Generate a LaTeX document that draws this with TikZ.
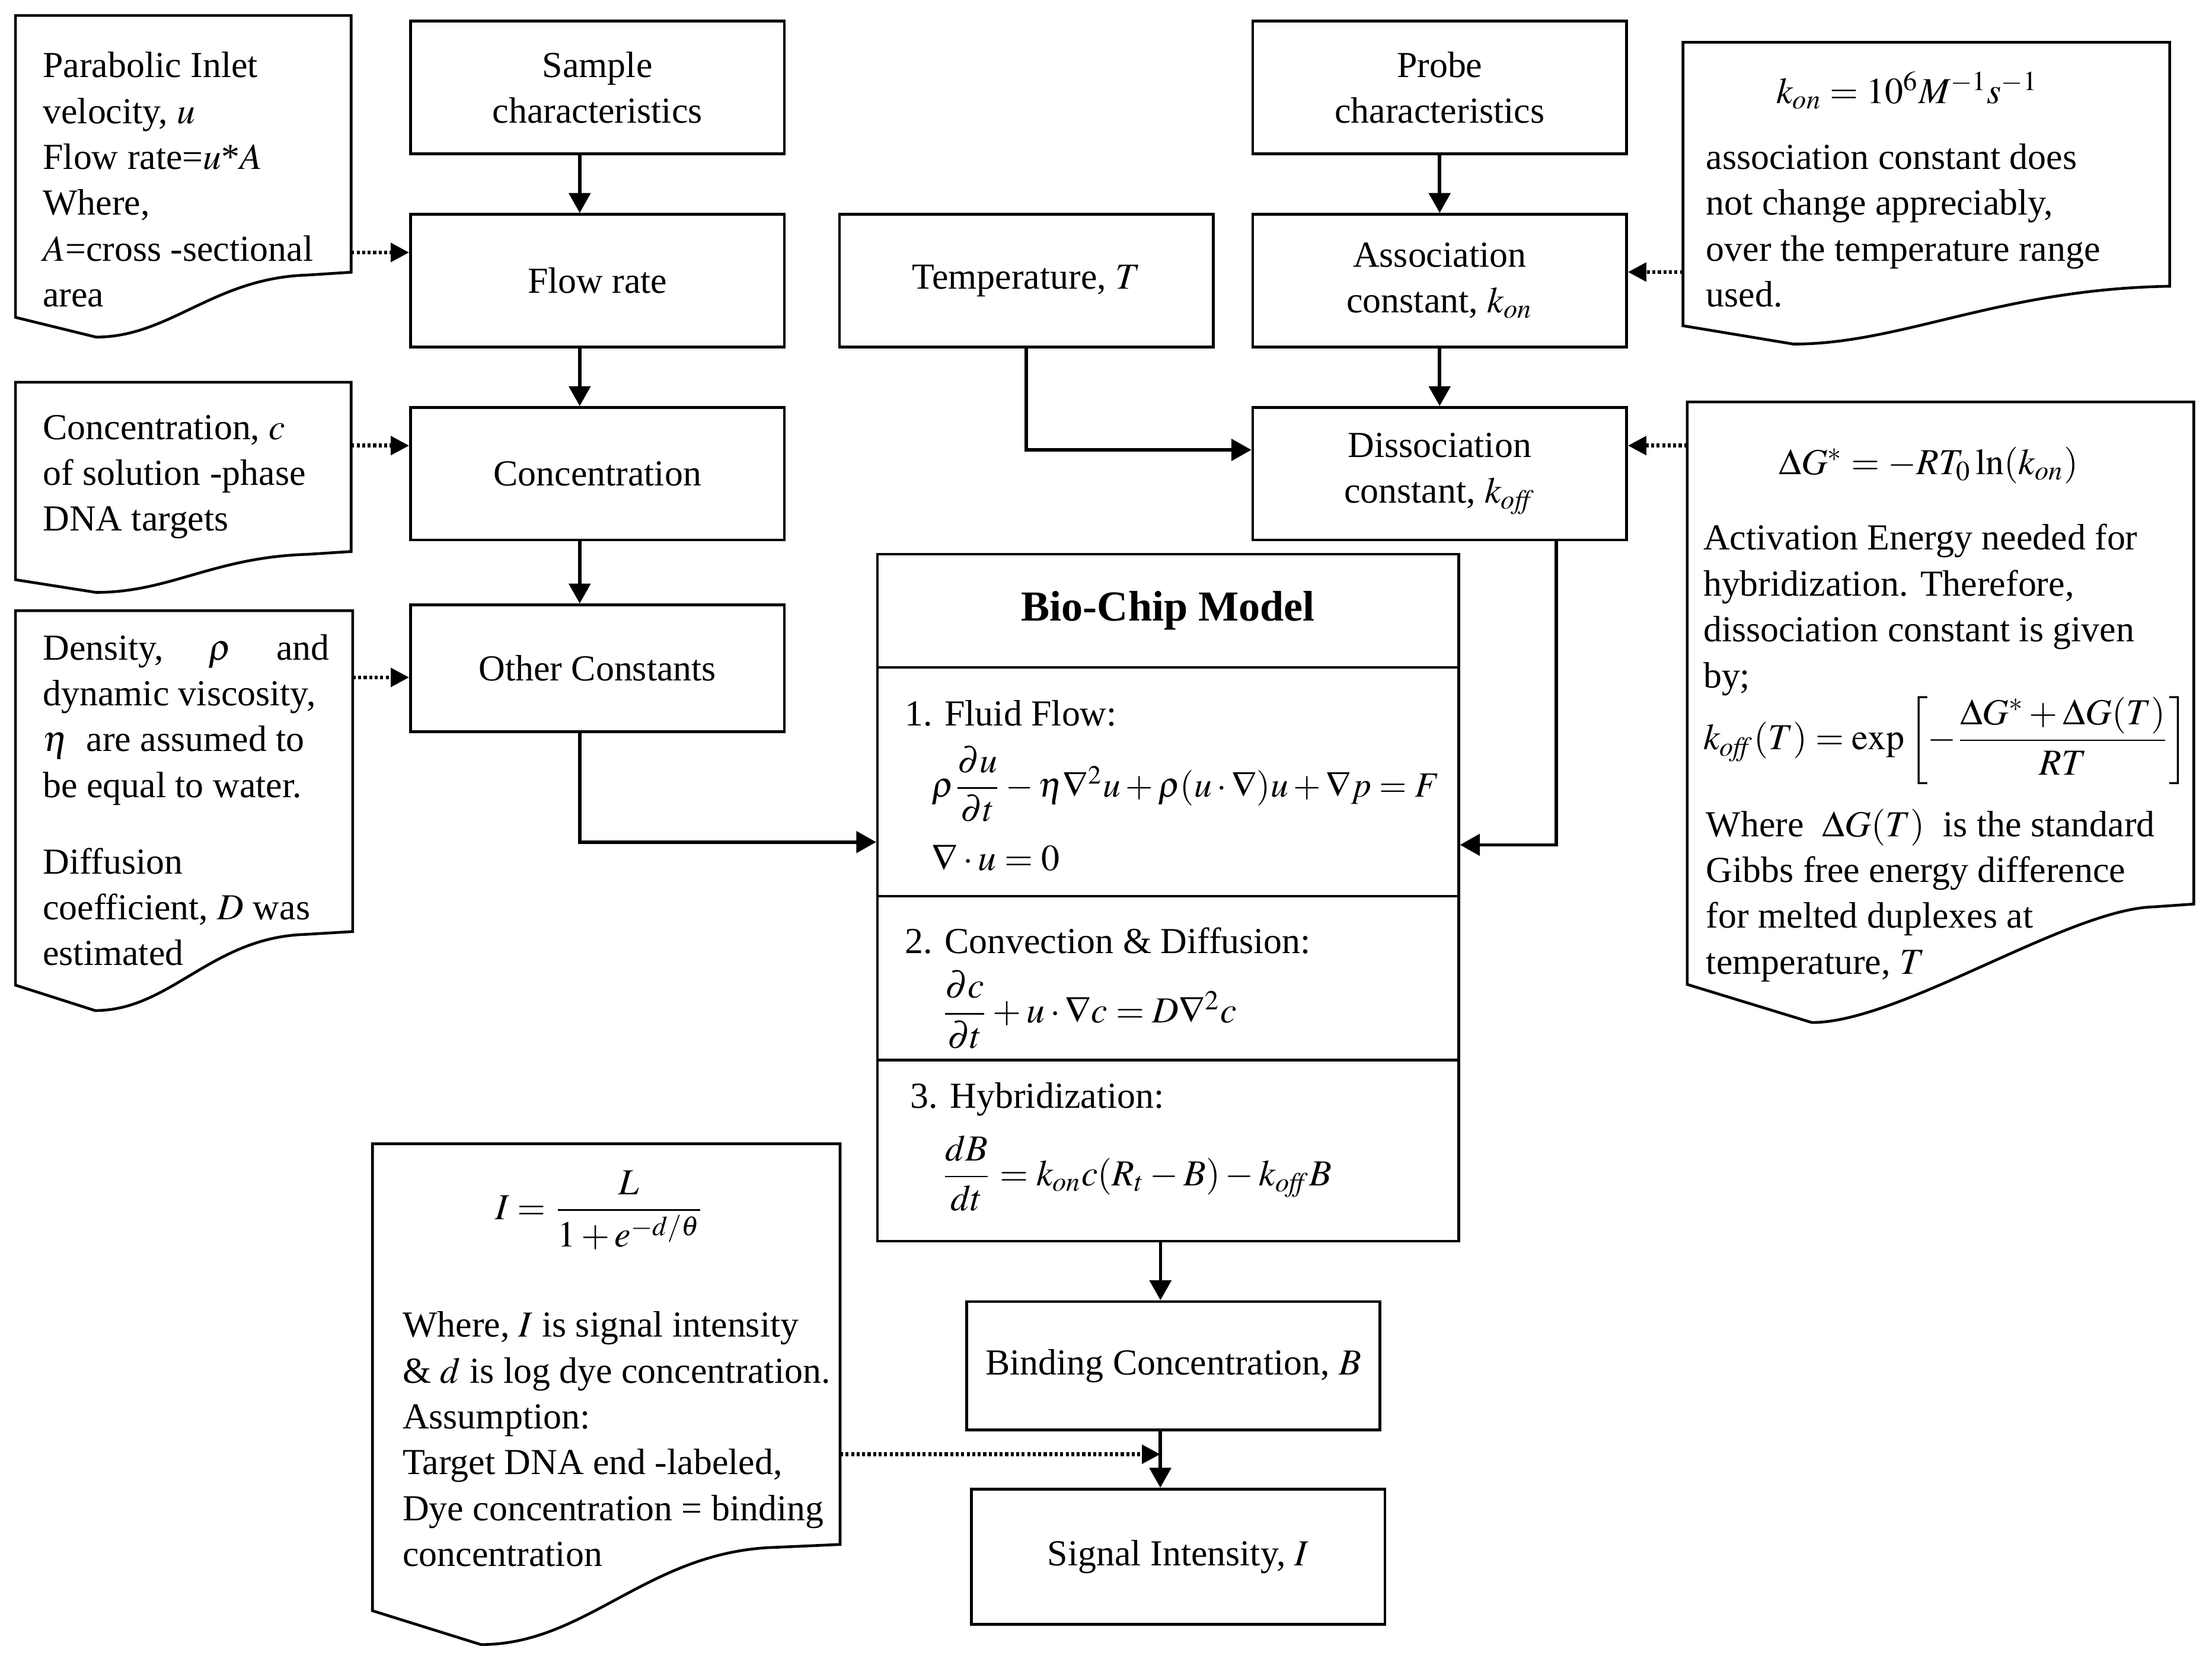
\documentclass[tikz,border=0pt]{standalone}
\usepackage{amsmath}
\usepackage{mathptmx}
\usepackage{fontspec}
\setmainfont{Liberation Serif}
\usetikzlibrary{positioning, arrows.meta, calc}
\tikzset{
  every node/.style={font=\fontsize{12}{15}\selectfont},
  arr/.style={-{Triangle[length=6.5pt, width=7pt]}, line width=1.1pt},
  arrd/.style={-{Triangle[length=6pt, width=6pt]}, line width=1.3pt, dash pattern=on 1pt off 0.8pt},
  blk/.style={draw, line width=0.9pt, align=center, inner sep=2pt,
              minimum width=122.3pt, minimum height=43.4pt},
  docbox/.style={inner sep=0pt, outer sep=0pt, anchor=north west},
  docline/.style={line width=0.9pt, line join=miter},
  note/.style={anchor=base west, align=left, inner sep=0pt},
  eqn/.style={anchor=west, inner sep=0pt, font=\fontsize{12}{15}\selectfont},
}
\newcommand{\koff}{k_{\mathit{off}}}
% wavy bottom of a note sheet: node, flat, ctrl1, ctrl2, dip pos, left drop, dip
\newcommand{\docedge}[7]{%
  \draw[docline] ($(#1.south west)+(0,#6)$) -- (#1.north west) -- (#1.north east)
    -- (#1.south east) -- ($(#1.south east)!#2!(#1.south west)+(0,2)$)
    .. controls ($(#1.south east)!#3!(#1.south west)+(0,4)$)
       and ($(#1.south west)!#4!(#1.south east)+(0,#7)$)
    .. ($(#1.south west)!#5!(#1.south east)+(0,#7)$) -- cycle;}

\begin{document}
\begin{tikzpicture}[x=0.4615pt, y=-0.4615pt]
  \useasboundingbox (0,0) rectangle (1568,1176);
  % left column
  \node[blk] (samp) at (423.5,62) {Sample\\characteristics};
  \node[blk, below=18.9pt of samp] (flow) {Flow rate};
  \node[blk, below=18.9pt of flow] (conc) {Concentration};
  \node[blk, below=20.3pt of conc, minimum height=41.5pt] (other) {Other Constants};
  % right column
  \node[blk] (probe) at (1020.5,62) {Probe\\characteristics};
  \node[blk, below=18.9pt of probe] (assoc) {Association\\constant, $k_{on}$};
  \node[blk, below=18.9pt of assoc] (dissoc) {Dissociation\\constant, $\koff$};
  \node[blk, left=12pt of assoc] (temp) {Temperature, $T$};
  % model and outputs
  \node[blk, minimum width=190.1pt, minimum height=224.8pt] (chip) at (828,636.5) {};
  \foreach \dy in {81.3,243.5,359.6}
    \draw[line width=0.9pt] ($(chip.north west)+(0,\dy)$) -- ($(chip.north east)+(0,\dy)$);
  \node[blk, minimum width=135.2pt, minimum height=42pt] (bind) at (831.8,968.4)
    {Binding Concentration, $B$};
  \node[blk, minimum width=135.2pt, minimum height=44.3pt] (signal) at (835.2,1103.8)
    {Signal Intensity, $I$};

  \node[font=\fontsize{14}{17}\selectfont\bfseries] (chiphd) at (828,433) {Bio-Chip Model};
  \node[note] (fluidhd) at (641,514.5) {1. Fluid Flow:};
  \node[eqn, font=\fontsize{11.6}{14}\selectfont] (fluideq) at (660,556)
    {$\rho\dfrac{\partial u}{\partial t}-\eta\nabla^{2}u+\rho(u\cdot\nabla)u+\nabla p=F$};
  \node[eqn] (diveq) at (660,608) {$\nabla\cdot u=0$};
  \node[note] (convhd) at (641,676) {2. Convection \& Diffusion:};
  \node[eqn] (conveq) at (667,716)
    {$\dfrac{\partial c}{\partial t}+u\cdot\nabla c=D\nabla^{2}c$};
  \node[note] (hybhd) at (645,785.5) {3. Hybridization:};
  \node[eqn] (hybeq) at (667,832) {$\dfrac{dB}{dt}=k_{on}c(R_{t}-B)-\koff B$};

  % note sheets
  \node[docbox, minimum width=109.8pt, minimum height=84pt] (inletdoc) at (11,11) {};
  \docedge{inletdoc}{0.13}{0.41}{0.46}{0.24}{32}{46}
  \node[note] (inlettxt) at (30,217.5)
    {Parabolic Inlet\\velocity, $u$\\Flow rate=$u$*$A$\\Where,\\$A$=cross -sectional\\area};

  \node[docbox, minimum width=109.8pt, minimum height=55.4pt] (concdoc) at (11,271) {};
  \docedge{concdoc}{0.13}{0.41}{0.46}{0.24}{20}{29}
  \node[note] (conctxt) at (30,376.5)
    {Concentration, $c$\\of solution -phase\\DNA targets};

  \node[docbox, minimum width=110.3pt, minimum height=105pt] (propdoc) at (11,433) {};
  \docedge{propdoc}{0.14}{0.42}{0.46}{0.236}{38}{56}
  \node[note] (proptxt) at (30,684.5)
    {\makebox[93.7pt]{Density,\hfill$\rho$\hfill and}\\dynamic viscosity,\\
     $\eta$\ \ are assumed to\\be equal to water.\\[10pt]Diffusion\\
     coefficient, $D$ was\\estimated};

  \node[docbox, minimum width=159.2pt, minimum height=78.9pt] (kondoc) at (1193,30) {};
  \docedge{kondoc}{0.0}{0.35}{0.45}{0.227}{30}{43}
  \node (koneq) at (1352,64) {$k_{on}=10^{6}M^{-1}s^{-1}$};
  \node[note] (kontxt) at (1209,217.5)
    {association constant does\\not change appreciably,\\over the temperature range\\used.};

  \node[docbox, minimum width=165.7pt, minimum height=164.3pt] (koffdoc) at (1196,285) {};
  \docedge{koffdoc}{0.08}{0.25}{0.42}{0.246}{57}{84}
  \node (dgeq) at (1367,330) {$\Delta G^{*}=-RT_{0}\ln(k_{on})$};
  \node[note] (dgtxt) at (1207,487.5)
    {Activation Energy needed for\\hybridization. Therefore,\\dissociation constant is given\\by;};
  \node[eqn] (koffeq) at (1207,525)
    {$\koff(T)=\exp\left[-\dfrac{\Delta G^{*}+\Delta G(T)}{RT}\right]$};
  \node[note] (dgwhere) at (1209,690.5)
    {Where \ $\Delta G(T)$ \ is the standard\\Gibbs free energy difference\\
     for melted duplexes at\\temperature, $T$};

  \node[docbox, minimum width=153pt, minimum height=131.1pt] (intdoc) at (264,811) {};
  \docedge{intdoc}{0.134}{0.41}{0.46}{0.232}{47}{71}
  \node (inteq) at (425,858) {$I=\dfrac{L}{1+e^{-d/\theta}}$};
  \node[note] (inttxt) at (285,1110.5)
    {Where, $I$ is signal intensity\\\& $d$ is log dye concentration.\\Assumption:\\
     Target DNA end -labeled,\\Dye concentration = binding\\concentration};

  % solid connectors
  \draw[arr] ([xshift=-5.8pt]samp.south) -- ([xshift=-5.8pt]flow.north);
  \draw[arr] ([xshift=-5.8pt]flow.south) -- ([xshift=-5.8pt]conc.north);
  \draw[arr] ([xshift=-5.8pt]conc.south) -- ([xshift=-5.8pt]other.north);
  \draw[arr] ([xshift=-5.8pt]other.south) |- ([yshift=18.2pt]chip.west);
  \draw[arr] (probe) -- (assoc);
  \draw[arr] (assoc) -- (dissoc);
  \draw[arr] (temp.south) |- ([yshift=7.8pt]dissoc.west);
  \draw[arr] ([xshift=38.1pt]dissoc.south) |- ([yshift=17.3pt]chip.east);
  \draw[arr] ([xshift=-2.5pt]chip.south) -- ([xshift=-2.5pt]chip.south |- bind.north);
  \draw[arr] ([xshift=-4.3pt]bind.south) -- ([xshift=-4.3pt]bind.south |- signal.north);

  % dotted connectors from the notes
  \coordinate (flowin) at ([yshift=9.2pt]flow.west);
  \coordinate (concin) at ([yshift=9.2pt]conc.west);
  \coordinate (otherin) at ([yshift=-3pt]other.west);
  \coordinate (associn) at ([yshift=2.8pt]assoc.east);
  \coordinate (dissocin) at ([yshift=9.2pt]dissoc.east);
  \coordinate (sigin) at ([xshift=-4.3pt, yshift=-7.5pt]bind.south);
  \draw[arrd] (inletdoc.east |- flowin) -- (flowin);
  \draw[arrd] (concdoc.east |- concin) -- (concin);
  \draw[arrd] (propdoc.east |- otherin) -- (otherin);
  \draw[arrd] (kondoc.west |- associn) -- (associn);
  \draw[arrd] (koffdoc.west |- dissocin) -- (dissocin);
  \draw[arrd] (intdoc.east |- sigin) -- (sigin);
\end{tikzpicture}
\end{document}
